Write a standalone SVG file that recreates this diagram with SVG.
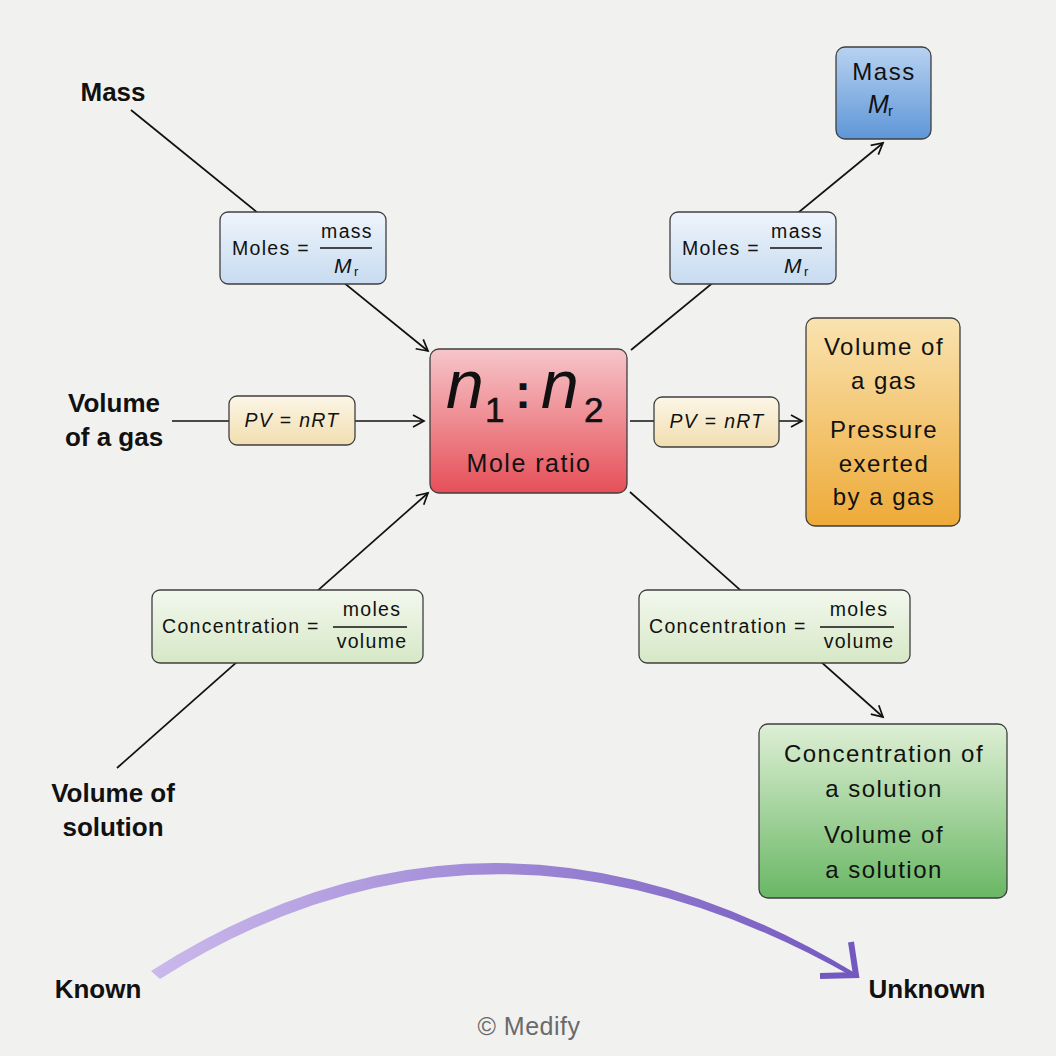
<svg xmlns="http://www.w3.org/2000/svg" width="1056" height="1056" viewBox="0 0 1056 1056">
<defs>
<style>
.lbl{font-family:"Liberation Sans",Arial,sans-serif;font-weight:bold;font-size:26px;fill:#111;text-anchor:middle}
.t{font-family:"Liberation Sans",Arial,sans-serif;font-size:24px;fill:#111;text-anchor:middle;letter-spacing:1.5px}
.f{font-family:"Liberation Sans",Arial,sans-serif;font-size:19.5px;fill:#111;letter-spacing:1.3px}
.fm{font-family:"Liberation Sans",Arial,sans-serif;font-size:19.5px;fill:#111;text-anchor:middle;letter-spacing:1.3px}
.it{font-style:italic}
.mr{font-family:"Liberation Sans",Arial,sans-serif;font-style:italic;font-size:21px;fill:#111}
.sub{font-family:"Liberation Sans",Arial,sans-serif;font-size:13px;fill:#111}
.box{stroke:#3f3f3f;stroke-width:1.3}
.arr{stroke:#111;stroke-width:1.7;fill:none;marker-end:url(#ah)}
.fl{stroke:#111;stroke-width:1.3}
</style>
<marker id="ah" markerUnits="userSpaceOnUse" markerWidth="16" markerHeight="16" refX="13" refY="8" orient="auto" viewBox="0 0 16 16">
<path d="M2,2 L13,8 L2,14" fill="none" stroke="#111" stroke-width="1.7"/>
</marker>
<linearGradient id="gRed" x1="0" y1="0" x2="0" y2="1"><stop offset="0" stop-color="#f6c6ca"/><stop offset="1" stop-color="#e64f58"/></linearGradient>
<linearGradient id="gLB" x1="0" y1="0" x2="0" y2="1"><stop offset="0" stop-color="#eef4fb"/><stop offset="1" stop-color="#c7dbf0"/></linearGradient>
<linearGradient id="gBlue" x1="0" y1="0" x2="0" y2="1"><stop offset="0" stop-color="#b8d2f0"/><stop offset="1" stop-color="#5e96d8"/></linearGradient>
<linearGradient id="gCream" x1="0" y1="0" x2="0" y2="1"><stop offset="0" stop-color="#fcf6e7"/><stop offset="1" stop-color="#f1deb0"/></linearGradient>
<linearGradient id="gOr" x1="0" y1="0" x2="0" y2="1"><stop offset="0" stop-color="#f9e3b0"/><stop offset="1" stop-color="#eeaa38"/></linearGradient>
<linearGradient id="gLG" x1="0" y1="0" x2="0" y2="1"><stop offset="0" stop-color="#f3f8ee"/><stop offset="1" stop-color="#d6e8c6"/></linearGradient>
<linearGradient id="gGr" x1="0" y1="0" x2="0" y2="1"><stop offset="0" stop-color="#deefd5"/><stop offset="1" stop-color="#69b764"/></linearGradient>
<linearGradient id="gPur" gradientUnits="userSpaceOnUse" x1="150" y1="0" x2="860" y2="0"><stop offset="0" stop-color="#cbb9ec"/><stop offset="1" stop-color="#7358bf"/></linearGradient>
</defs>
<rect x="0" y="0" width="1056" height="1056" fill="#f1f1f0"/>

<g id="connectors">
<line class="arr" x1="131" y1="110" x2="428" y2="351"/>
<line class="arr" x1="172" y1="421" x2="424" y2="421"/>
<line class="arr" x1="117" y1="768" x2="428" y2="493"/>
<line class="arr" x1="631" y1="350" x2="883" y2="143"/>
<line class="arr" x1="630" y1="421" x2="802" y2="421"/>
<line class="arr" x1="630" y1="492" x2="883" y2="717"/>
</g>

<g id="known-unknown-arrow">
<path d="M151,971 Q490,754 855,973 L855,978 Q490,770 160,979 Z" fill="url(#gPur)"/>
<polyline points="851,942 856,975 820,976" fill="none" stroke="#7358bf" stroke-width="6" stroke-linejoin="miter"/>
</g>

<g id="label-mass"><text class="lbl" x="113" y="101">Mass</text></g>
<g id="label-volgas"><text class="lbl" x="114" y="412">Volume</text><text class="lbl" x="114" y="446">of a gas</text></g>
<g id="label-volsol"><text class="lbl" x="113" y="802">Volume of</text><text class="lbl" x="113" y="836">solution</text></g>
<g id="label-known"><text class="lbl" x="98" y="998">Known</text></g>
<g id="label-unknown"><text class="lbl" x="927" y="998">Unknown</text></g>

<g id="node-mole-ratio">
<rect class="box" x="430" y="349" width="197" height="144" rx="9" fill="url(#gRed)"/>
<text x="446" y="408" font-family="Liberation Sans,Arial,sans-serif" font-style="italic" font-size="68" fill="#111">n</text>
<text x="485" y="422" font-family="Liberation Sans,Arial,sans-serif" font-size="35" fill="#111" stroke="#111" stroke-width="0.6">1</text>
<text x="515" y="408" font-family="Liberation Sans,Arial,sans-serif" font-weight="bold" font-size="48" fill="#111">:</text>
<text x="541" y="408" font-family="Liberation Sans,Arial,sans-serif" font-style="italic" font-size="68" fill="#111">n</text>
<text x="584" y="422" font-family="Liberation Sans,Arial,sans-serif" font-size="35" fill="#111" stroke="#111" stroke-width="0.6">2</text>
<text class="t" x="529" y="472" style="font-size:25px">Mole ratio</text>
</g>

<g id="formula-moles-left">
<rect class="box" x="220" y="212" width="166" height="72" rx="8" fill="url(#gLB)"/>
<text class="f" x="232" y="255">Moles =</text>
<text class="fm" x="347" y="238">mass</text>
<line class="fl" x1="320" y1="248" x2="372" y2="248"/>
<text class="mr" x="334" y="273">M</text>
<text class="sub" x="354" y="276">r</text>
</g>

<g id="formula-moles-right">
<rect class="box" x="670" y="212" width="166" height="72" rx="8" fill="url(#gLB)"/>
<text class="f" x="682" y="255">Moles =</text>
<text class="fm" x="797" y="238">mass</text>
<line class="fl" x1="770" y1="248" x2="822" y2="248"/>
<text class="mr" x="784" y="273">M</text>
<text class="sub" x="804" y="276">r</text>
</g>

<g id="formula-pv-left">
<rect class="box" x="229" y="396" width="126" height="49" rx="8" fill="url(#gCream)"/>
<text class="fm" x="292" y="427"><tspan class="it">PV</tspan> = <tspan class="it">nRT</tspan></text>
</g>

<g id="formula-pv-right">
<rect class="box" x="654" y="397" width="125" height="50" rx="8" fill="url(#gCream)"/>
<text class="fm" x="717" y="428"><tspan class="it">PV</tspan> = <tspan class="it">nRT</tspan></text>
</g>

<g id="formula-conc-left">
<rect class="box" x="152" y="590" width="271" height="73" rx="8" fill="url(#gLG)"/>
<text class="f" x="162" y="633">Concentration =</text>
<text class="fm" x="372" y="616">moles</text>
<line class="fl" x1="333" y1="627" x2="407" y2="627"/>
<text class="fm" x="372" y="648">volume</text>
</g>

<g id="formula-conc-right">
<rect class="box" x="639" y="590" width="271" height="73" rx="8" fill="url(#gLG)"/>
<text class="f" x="649" y="633">Concentration =</text>
<text class="fm" x="859" y="616">moles</text>
<line class="fl" x1="820" y1="627" x2="894" y2="627"/>
<text class="fm" x="859" y="648">volume</text>
</g>

<g id="node-mass-mr">
<rect class="box" x="836" y="47" width="95" height="92" rx="9" fill="url(#gBlue)"/>
<text class="t" x="884" y="80">Mass</text>
<text x="868" y="113" font-family="Liberation Sans,Arial,sans-serif" font-style="italic" font-size="25" fill="#111">M</text>
<text x="888" y="116" font-family="Liberation Sans,Arial,sans-serif" font-size="15" fill="#111">r</text>
</g>

<g id="node-gas">
<rect class="box" x="806" y="318" width="154" height="208" rx="9" fill="url(#gOr)"/>
<text class="t" x="884" y="355">Volume of</text>
<text class="t" x="884" y="389">a gas</text>
<text class="t" x="884" y="438">Pressure</text>
<text class="t" x="884" y="472">exerted</text>
<text class="t" x="884" y="505">by a gas</text>
</g>

<g id="node-solution">
<rect class="box" x="759" y="724" width="248" height="174" rx="9" fill="url(#gGr)"/>
<text class="t" x="884" y="762">Concentration of</text>
<text class="t" x="884" y="797">a solution</text>
<text class="t" x="884" y="843">Volume of</text>
<text class="t" x="884" y="878">a solution</text>
</g>

<g id="copyright">
<text x="529" y="1035" font-family="Liberation Sans,Arial,sans-serif" font-size="25" fill="#6a6a6a" text-anchor="middle" letter-spacing="0.5">© Medify</text>
</g>
</svg>
